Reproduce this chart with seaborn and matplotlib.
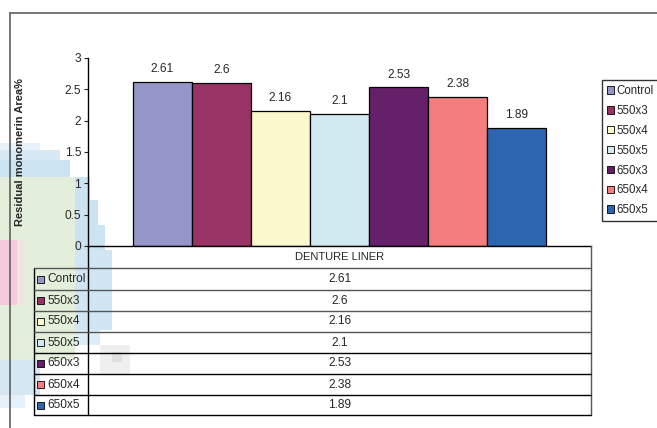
import matplotlib
matplotlib.use("Agg")
import matplotlib.pyplot as plt
from matplotlib.lines import Line2D
from matplotlib.patches import Rectangle, Patch
import seaborn as sns
import pandas as pd

# Data
group_label = "DENTURE LINER"
treatments = ["Control", "550x3", "550x4", "550x5", "650x3", "650x4", "650x5"]
values = [2.61, 2.6, 2.16, 2.1, 2.53, 2.38, 1.89]
colors = ["#9595C9", "#993366", "#FAF8CC", "#D0EAF0", "#66206A", "#F47E7E", "#2D66B0"]
y_ticks = [0, 0.5, 1, 1.5, 2, 2.5, 3]
y_label = "Residual monomerin Area%"

W, H = 657, 428
FS = 8.6

sns.set_style("white")
plt.rcParams["font.family"] = ["Liberation Sans", "DejaVu Sans"]


def fx(x):
    return x / W


def fy(y):
    return 1 - y / H


fig = plt.figure(figsize=(W / 100, H / 100), dpi=100)

# soft colour blotches on the left margin
blotches = [
    # x0, y0, x1, y1, colour
    (0, 143, 40, 150, "#E6F1F9"),
    (0, 150, 60, 160, "#D6E9F5"),
    (0, 160, 70, 177, "#CCE3F2"),
    (75, 177, 90, 200, "#CCE3F2"),
    (75, 200, 98, 225, "#CCE3F2"),
    (75, 225, 105, 250, "#CCE3F2"),
    (75, 250, 112, 330, "#D0E6F3"),
    (75, 330, 100, 345, "#DDEDF6"),
    (0, 177, 75, 360, "#E4EFDB"),
    (0, 240, 17, 305, "#F6CCDD"),
    (17, 240, 25, 305, "#EEE6E0"),
    (0, 360, 40, 395, "#D5E7F3"),
    (0, 395, 25, 408, "#E6F1F9"),
    (100, 345, 130, 375, "#EFEFEF"),
    (112, 352, 122, 362, "#E0E0E0"),
]
for x0, y0, x1, y1, c in blotches:
    fig.add_artist(Rectangle((fx(x0), fy(y1)), fx(x1) - fx(x0), fy(y0) - fy(y1),
                             transform=fig.transFigure, facecolor=c,
                             edgecolor="none", zorder=0))

# outer chart frame (top and left edges)
frame_kw = dict(transform=fig.transFigure, color="#606060", linewidth=1.2, zorder=1)
fig.add_artist(Line2D([fx(10), fx(W)], [fy(13), fy(13)], **frame_kw))
fig.add_artist(Line2D([fx(10), fx(10)], [fy(13), fy(H)], **frame_kw))

# plot area
ax_left, ax_right, ax_top, ax_bottom = 88, 591, 58, 246
ax = fig.add_axes([fx(ax_left), fy(ax_bottom), fx(ax_right) - fx(ax_left),
                   fy(ax_top) - fy(ax_bottom)])
ax.patch.set_alpha(0)

df = pd.DataFrame({"group": [group_label] * len(values),
                   "treatment": treatments, "value": values})
sns.barplot(data=df, x="group", y="value", hue="treatment", hue_order=treatments,
            palette=colors, width=0.823, edgecolor="black", linewidth=0.9,
            saturation=1, legend=False, ax=ax)

for cont, v in zip(ax.containers, values):
    ax.bar_label(cont, labels=[f"{v:g}"], padding=5, fontsize=FS)

ax.set_xlim(-0.5, 0.5)
ax.set_ylim(0, 3)
ax.set_yticks(y_ticks)
ax.set_yticklabels([f"{t:g}" for t in y_ticks], fontsize=FS)
ax.set_xticks([])
ax.set_xlabel("")
ax.set_ylabel("")
ax.tick_params(axis="y", direction="out", length=3, width=0.8, pad=2, left=True)
for s in ["top", "right"]:
    ax.spines[s].set_visible(False)
for s in ["left", "bottom"]:
    ax.spines[s].set_color("black")
    ax.spines[s].set_linewidth(1)

fig.text(fx(20), fy((ax_top + ax_bottom) / 2), y_label, rotation=90,
         ha="center", va="center", fontsize=8, fontweight="bold")

# data table under the plot
tbl_left = 34
row_edges = [268, 290, 311, 332, 353, 374, 395, 415]
line_kw = dict(transform=fig.transFigure, color="black", linewidth=1, zorder=3)
grey_kw = dict(transform=fig.transFigure, color="#555555", linewidth=1, zorder=3)
fig.add_artist(Line2D([fx(ax_right), fx(ax_right)], [fy(ax_bottom), fy(row_edges[-1])], **grey_kw))
fig.add_artist(Line2D([fx(ax_left), fx(ax_left)], [fy(ax_bottom), fy(row_edges[-1])], **line_kw))
fig.add_artist(Line2D([fx(tbl_left), fx(tbl_left)], [fy(row_edges[0]), fy(row_edges[-1])], **line_kw))
for i, yv in enumerate(row_edges):
    kw = grey_kw if i < 4 else line_kw
    fig.add_artist(Line2D([fx(tbl_left), fx(ax_right)], [fy(yv), fy(yv)], **kw))

center_x = (ax_left + ax_right) / 2
fig.text(fx(center_x), fy((ax_bottom + row_edges[0]) / 2), group_label,
         ha="center", va="center", fontsize=8)
for i, (name, v, c) in enumerate(zip(treatments, values, colors)):
    ymid = (row_edges[i] + row_edges[i + 1]) / 2
    fig.add_artist(Rectangle((fx(36.5), fy(ymid + 3.5)), fx(7), 7 / H,
                             transform=fig.transFigure, facecolor=c,
                             edgecolor="black", linewidth=0.6, zorder=4))
    fig.text(fx(47), fy(ymid), name, ha="left", va="center", fontsize=FS)
    fig.text(fx(center_x), fy(ymid), f"{v:g}", ha="center", va="center", fontsize=FS)

# legend on the right
handles = [Patch(facecolor=c, edgecolor="black", linewidth=0.6) for c in colors]
leg = fig.legend(handles, treatments, loc="upper left",
                 bbox_to_anchor=(fx(602), fy(80)), frameon=True, fancybox=False,
                 edgecolor="black", handlelength=0.6, handleheight=0.6,
                 handletextpad=0.2, labelspacing=0.68, borderpad=0.45,
                 borderaxespad=0, fontsize=8.3)
leg.get_frame().set_linewidth(1)

fig.savefig("out.png", dpi=100)
